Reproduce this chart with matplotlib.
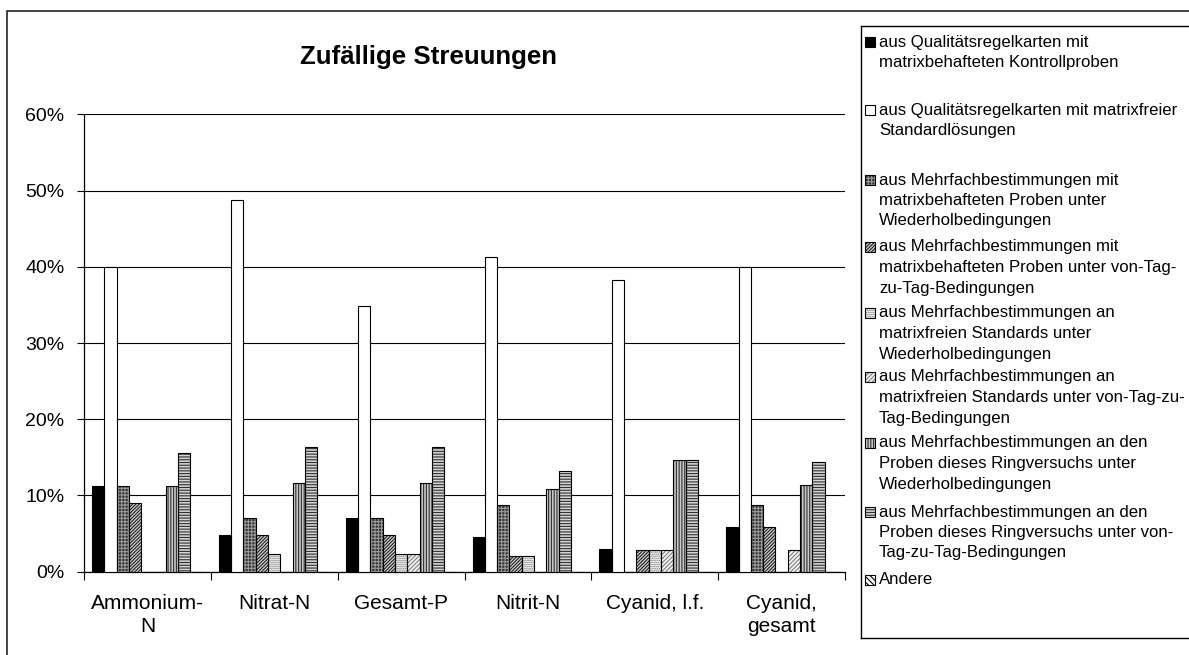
import matplotlib
matplotlib.use("Agg")
from matplotlib import pyplot as plt
from matplotlib.patches import Rectangle
import numpy as np

plt.rcParams['font.family'] = ['Liberation Sans', 'DejaVu Sans']
plt.rcParams['hatch.linewidth'] = 0.8

# Daten (Anteil in %)
kategorien = ["Ammonium-\nN", "Nitrat-N", "Gesamt-P", "Nitrit-N", "Cyanid, l.f.", "Cyanid,\ngesamt"]

qrk_matrix = [11.2, 4.8, 7.1, 4.5, 3.0, 5.9]
qrk_standard = [40.0, 48.8, 34.8, 41.3, 38.3, 40.0]
mehrf_matrix_wdh = [11.2, 7.1, 7.1, 8.7, 0.0, 8.7]
mehrf_matrix_ttt = [9.0, 4.8, 4.8, 2.1, 2.9, 5.9]
mehrf_std_wdh = [0.0, 2.3, 2.3, 2.1, 2.9, 0.0]
mehrf_std_ttt = [0.0, 0.0, 2.3, 0.0, 2.9, 2.8]
ringv_wdh = [11.2, 11.6, 11.6, 10.9, 14.7, 11.4]
ringv_ttt = [15.6, 16.3, 16.3, 13.2, 14.7, 14.4]
andere = [0.0, 0.0, 0.0, 0.0, 0.0, 0.0]

beschriftungen = [
    "aus Qualitätsregelkarten mit\nmatrixbehafteten Kontrollproben",
    "aus Qualitätsregelkarten mit matrixfreier\nStandardlösungen",
    "aus Mehrfachbestimmungen mit\nmatrixbehafteten Proben unter\nWiederholbedingungen",
    "aus Mehrfachbestimmungen mit\nmatrixbehafteten Proben unter von-Tag-\nzu-Tag-Bedingungen",
    "aus Mehrfachbestimmungen an\nmatrixfreien Standards unter\nWiederholbedingungen",
    "aus Mehrfachbestimmungen an\nmatrixfreien Standards unter von-Tag-zu-\nTag-Bedingungen",
    "aus Mehrfachbestimmungen an den\nProben dieses Ringversuchs unter\nWiederholbedingungen",
    "aus Mehrfachbestimmungen an den\nProben dieses Ringversuchs unter von-\nTag-zu-Tag-Bedingungen",
    "Andere",
]

reihen = [qrk_matrix, qrk_standard, mehrf_matrix_wdh, mehrf_matrix_ttt,
          mehrf_std_wdh, mehrf_std_ttt, ringv_wdh, ringv_ttt, andere]

# Fuellung, Schraffur, Schraffurfarbe je Reihe
muster = [
    ("black", None, "black"),
    ("white", None, "black"),
    ("#333333", "+++++", "#9a9a9a"),
    ("#d0d0d0", "//////////", "#202020"),
    ("white", "........", "#707070"),
    ("#f4f4f4", "////////", "#808080"),
    ("#c8c8c8", "||||||", "#303030"),
    ("#d4d4d4", "------", "#303030"),
    ("white", "\\\\\\\\\\\\", "black"),
]

W, H = 1189, 655
fig = plt.figure(figsize=(W / 100, H / 100), dpi=100)

# Rahmen des Diagrammbereichs
fig.patches.append(Rectangle((7 / W, -0.05), 1.2, 1 - 10.7 / H + 0.05, transform=fig.transFigure,
                             fill=False, lw=1.2, ec="#222222"))

ax = fig.add_axes([84 / W, (H - 571.7) / H, 761 / W, 457.4 / H])

x = np.arange(len(kategorien))
breite = 0.097
for j, (werte, (fc, hatch, hc)) in enumerate(zip(reihen, muster)):
    pos = x + (j - 4) * breite
    ax.bar(pos, werte, breite, color=fc, hatch=hatch, edgecolor=hc, lw=0, zorder=3)
    ax.bar(pos, werte, breite, fill=False, edgecolor="black", lw=0.8, zorder=4)

ax.set_xlim(-0.5, len(kategorien) - 0.5)
ax.set_ylim(0, 60)
ax.set_yticks(np.arange(0, 61, 10))
ax.set_yticklabels([f"{v}%" for v in range(0, 61, 10)])
ax.yaxis.grid(True, color="black", lw=0.8)
ax.set_axisbelow(True)
ax.tick_params(axis="y", labelsize=14, length=5, pad=9, width=0.8)

ax.set_xticks(np.arange(-0.5, len(kategorien)), labels=[])
ax.set_xticks(x, labels=kategorien, minor=True)
ax.tick_params(axis="x", which="major", length=6, width=0.8)
ax.tick_params(axis="x", which="minor", length=0, pad=16, labelsize=15)
for t in ax.get_xticklabels(minor=True):
    t.set_linespacing(1.3)

for s in ["top", "right"]:
    ax.spines[s].set_visible(False)
for s in ["left", "bottom"]:
    ax.spines[s].set_linewidth(0.9)

fig.text(429 / W, 1 - 56.7 / H, "Zufällige Streuungen", ha="center", va="center",
         fontsize=18.6, fontweight="bold")

# Legende von Hand (wie im Original)
lg = fig.add_axes([861 / W, (H - 638) / H, (W - 861) / W, (638 - 26) / H])
lg.set_xlim(0, W - 861)
lg.set_ylim(638, 26)
lg.set_xticks([])
lg.set_yticks([])
lg.spines["right"].set_visible(False)
for s in ["top", "left", "bottom"]:
    lg.spines[s].set_linewidth(1.0)

zeilen_y = [42, 110, 180, 247, 313, 377, 443, 512, 580]
for (fc, hatch, hc), text, y0 in zip(muster, beschriftungen, zeilen_y):
    lg.add_patch(Rectangle((4, y0 - 5), 10, 10, facecolor=fc, hatch=hatch, edgecolor=hc, lw=0))
    lg.add_patch(Rectangle((4, y0 - 5), 10, 10, fill=False, edgecolor="black", lw=0.8))
    for k, zeile in enumerate(text.split("\n")):
        lg.text(18, y0 + k * 20.5, zeile, fontsize=12.1, va="center", ha="left")

fig.savefig("out.png", dpi=100)
